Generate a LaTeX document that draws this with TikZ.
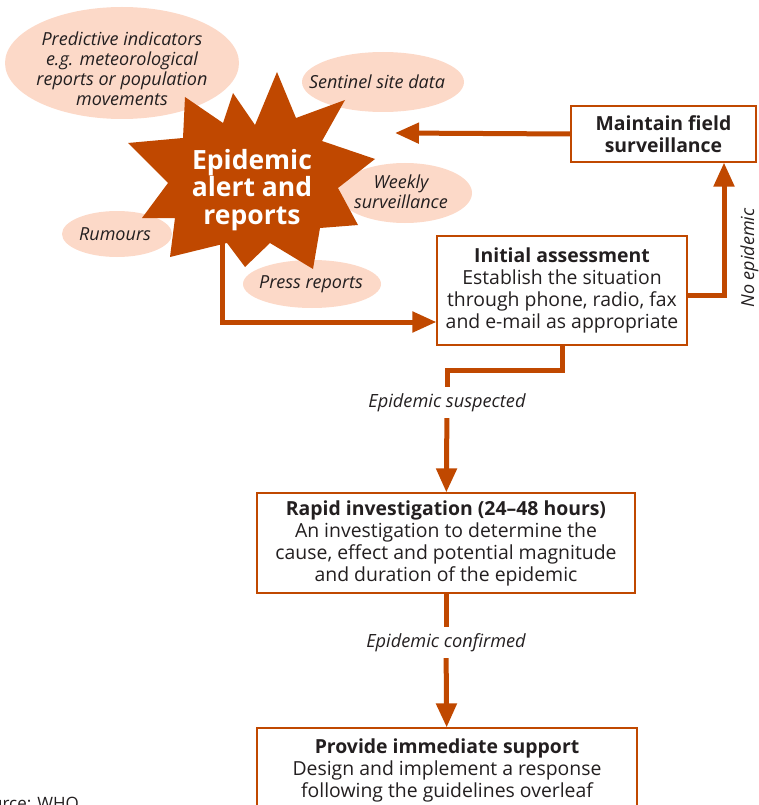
\documentclass[tikz,border=0pt]{standalone}
\usepackage{fontspec}
\setmainfont{Open Sans}
\usetikzlibrary{arrows.meta, positioning}
\definecolor{burnt}{RGB}{192,72,0}
\definecolor{peach}{RGB}{252,217,200}
\definecolor{ink}{RGB}{35,31,32}
\tikzset{
  box/.style={
    rectangle,
    draw=burnt,
    line width=1.2pt,
    align=center,
    text=ink,
    inner sep=0pt,
    font=\fontsize{19.4}{22}\selectfont
  },
  cloud/.style={
    fill=peach
  },
  note/.style={
    align=center,
    text=ink,
    inner sep=0pt,
    font=\itshape\fontsize{18}{20}\selectfont
  },
  cond/.style={
    align=center,
    text=ink,
    inner sep=0pt,
    minimum height=31pt,
    font=\itshape\fontsize{18.2}{20}\selectfont
  },
  burst/.style={
    fill=burnt
  },
  arrow/.style={line width=5pt, draw=burnt, -{Triangle[length=24pt,width=20pt]}},
  flow/.style={line width=5pt, draw=burnt}
}
\begin{document}
\begin{tikzpicture}[x=1pt, y=-1pt]
    \useasboundingbox (0,0) rectangle (758,805);
    \clip (0,0) rectangle (758,805);
    % sources of alerts
    \fill[cloud] (122,63) ellipse [x radius=117pt, y radius=56pt];
    \fill[cloud] (383,82) ellipse [x radius=81pt, y radius=30pt];
    \fill[cloud] (405,193) ellipse [x radius=67pt, y radius=30pt];
    \fill[cloud] (117,234) ellipse [x radius=55pt, y radius=23pt];
    \fill[cloud] (312,284) ellipse [x radius=69pt, y radius=24pt];
    \node[note] (predictive) at (122,69) {Predictive indicators\\e.g. meteorological\\reports or population\\movements};
    \node[note] (sentinel) at (377,82) {Sentinel site data};
    \node[note] (weekly) at (401,192) {Weekly\\surveillance};
    \node[note] (rumours) at (115,234) {Rumours};
    \node[note] (press) at (311,284) {Press reports};
    % the alert itself
    \coordinate (alertfoot) at (222,240);
    \fill[burst] (277,72) -- (296,118) -- (345,100) -- (322,141) -- (375,159)
      -- (338,188) -- (358,225) -- (320,228) -- (313,269) -- (270,243)
      -- (245,267) -- (227,243) -- (170,257) -- (175,218) -- (142,218)
      -- (168,183) -- (128,143) -- (183,138) -- (185,97) -- (223,123)
      -- (233,93) -- (255,125) -- cycle;
    \node[align=center, inner sep=0pt, text=white, font=\bfseries\fontsize{26.5}{27.5}\selectfont] (alert) at (252,190) {Epidemic\\alert and\\reports};
    \coordinate (alertback) at (395,133);
    % steps
    \node[box, minimum width=185pt, minimum height=56pt, font=\bfseries\fontsize{19.4}{22}\selectfont] (maintain) at (663.5,134) {Maintain field\\surveillance};
    \node[box, minimum width=250pt, minimum height=109pt] (initial) at (562,290.5) {\textbf{Initial assessment}\\Establish the situation\\through phone, radio, fax\\and e-mail as appropriate};
    \node[cond] (suspected) at (447,402.5) {Epidemic suspected};
    \node[box, minimum width=378pt, minimum height=100pt] (rapid) at (446,543) {\textbf{Rapid investigation (24--48 hours)}\\An investigation to determine the\\cause, effect and potential magnitude\\and duration of the epidemic};
    \node[cond] (confirmed) at (446,642.5) {Epidemic confirmed};
    \node[box, minimum width=380pt, minimum height=84pt] (support) at (447,770) {\textbf{Provide immediate support}\\Design and implement a response\\following the guidelines overleaf};
    \node[note, rotate=90] (noepi) at (749.5,258) {No epidemic};
    \node[anchor=north east, inner sep=0pt, text=ink, font=\fontsize{17}{19}\selectfont] (source) at (79,797) {Source: WHO};
    % connectors
    \draw[arrow] (maintain.west) -- (alertback);
    \draw[arrow] (alertfoot) |- ([yshift=-31.5pt]initial.west);
    \draw[arrow] ([yshift=-4.5pt]initial.east) -| ([xshift=60.5pt]maintain.south);
    \draw[flow] (initial.south) -- ++(0,25) -| (suspected.north);
    \draw[arrow] (suspected) -- (rapid);
    \draw[flow] (rapid) -- (confirmed);
    \draw[arrow] (confirmed) -- (support);
\end{tikzpicture}
\end{document}
